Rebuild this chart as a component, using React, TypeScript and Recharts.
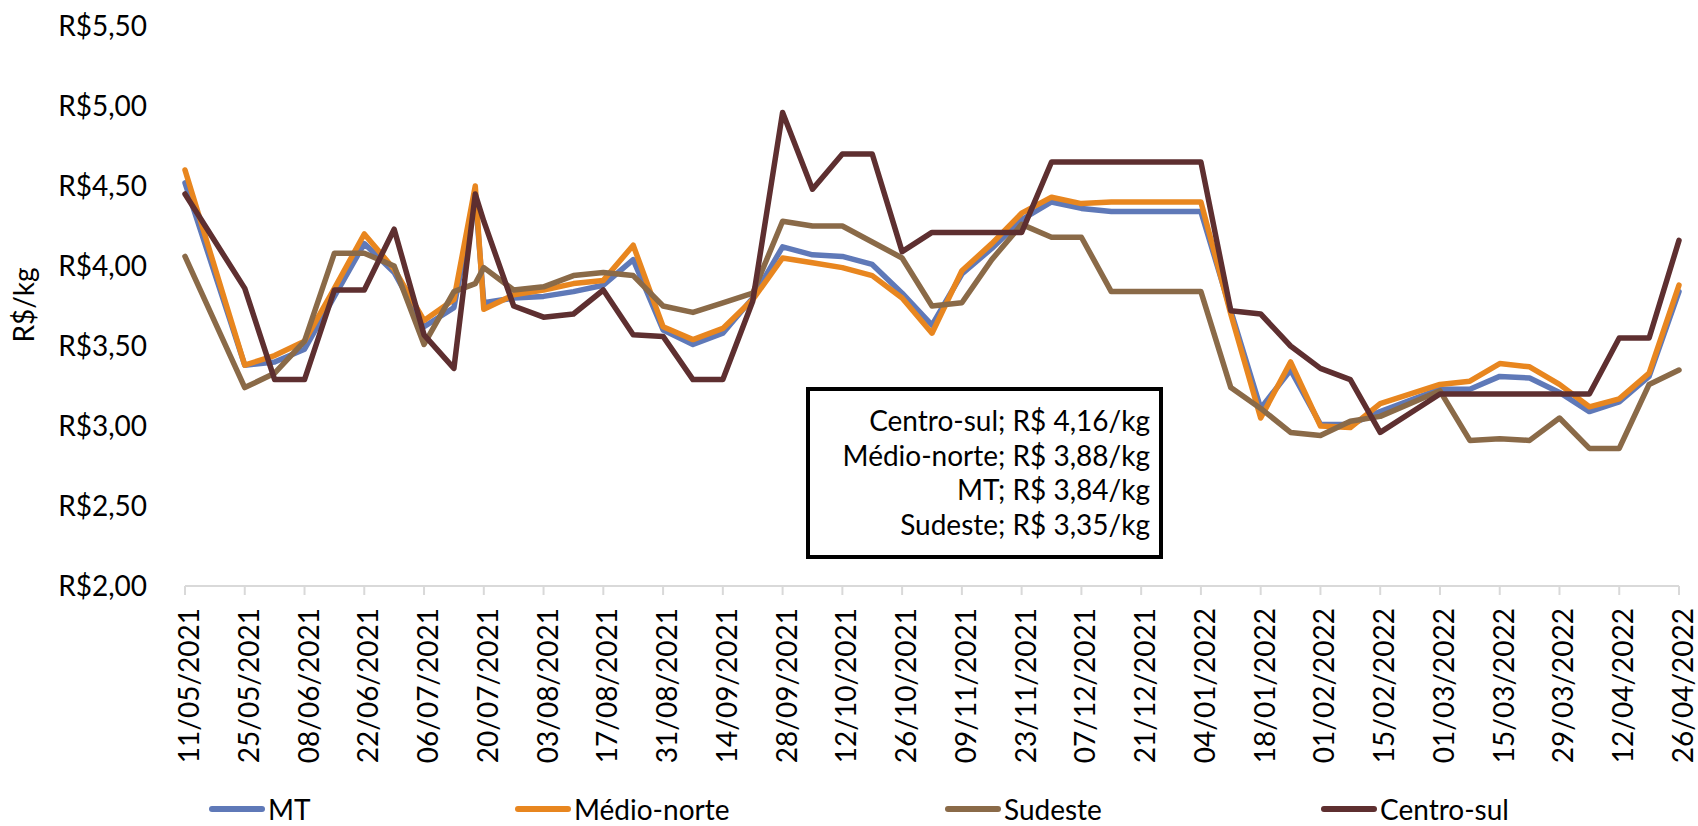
import React from 'react';
import { LineChart, Line, XAxis, YAxis, Legend, Label } from 'recharts';

// Days since 11/05/2021 for each observation
const days = [0, 14, 21, 28, 35, 42, 49, 56, 63, 68, 70, 77, 84, 91, 98, 105, 112, 119, 126, 133, 140, 147, 154, 161, 168, 175, 182, 189, 196, 203, 210, 217, 224, 231, 238, 245, 252, 259, 266, 273, 280, 294, 301, 308, 315, 322, 329, 336, 343, 350];

const mt = [4.52, 3.38, 3.40, 3.48, 3.81, 4.14, 3.96, 3.62, 3.74, 4.44, 3.77, 3.80, 3.81, 3.84, 3.88, 4.04, 3.60, 3.51, 3.58, 3.80, 4.12, 4.07, 4.06, 4.01, 3.83, 3.63, 3.95, 4.11, 4.29, 4.40, 4.36, 4.34, 4.34, 4.34, 4.34, 3.72, 3.11, 3.35, 3.01, 3.01, 3.09, 3.23, 3.23, 3.31, 3.30, 3.21, 3.09, 3.15, 3.31, 3.84];
const medioNorte = [4.60, 3.38, 3.44, 3.53, 3.86, 4.20, 3.98, 3.66, 3.79, 4.50, 3.73, 3.82, 3.85, 3.89, 3.91, 4.13, 3.62, 3.54, 3.61, 3.79, 4.05, 4.02, 3.99, 3.94, 3.80, 3.58, 3.97, 4.14, 4.33, 4.43, 4.39, 4.40, 4.40, 4.40, 4.40, 3.70, 3.05, 3.40, 3.00, 2.99, 3.14, 3.26, 3.28, 3.39, 3.37, 3.26, 3.12, 3.17, 3.33, 3.88];
const sudeste = [4.06, 3.24, 3.33, 3.53, 4.08, 4.08, 4.00, 3.51, 3.84, 3.89, 3.99, 3.85, 3.87, 3.94, 3.96, 3.94, 3.75, 3.71, 3.77, 3.83, 4.28, 4.25, 4.25, 4.15, 4.05, 3.75, 3.77, 4.04, 4.26, 4.18, 4.18, 3.84, 3.84, 3.84, 3.84, 3.24, 3.11, 2.96, 2.94, 3.03, 3.06, 3.22, 2.91, 2.92, 2.91, 3.05, 2.86, 2.86, 3.26, 3.35];
const centroSul = [4.45, 3.86, 3.29, 3.29, 3.85, 3.85, 4.23, 3.57, 3.36, 4.45, 4.28, 3.75, 3.68, 3.70, 3.85, 3.57, 3.56, 3.29, 3.29, 3.78, 4.96, 4.48, 4.70, 4.70, 4.09, 4.21, 4.21, 4.21, 4.21, 4.65, 4.65, 4.65, 4.65, 4.65, 4.65, 3.72, 3.70, 3.50, 3.36, 3.29, 2.96, 3.20, 3.20, 3.20, 3.20, 3.20, 3.20, 3.55, 3.55, 4.16];

const tickDays = [0, 14, 28, 42, 56, 70, 84, 98, 112, 126, 140, 154, 168, 182, 196, 210, 224, 238, 252, 266, 280, 294, 308, 322, 336, 350];
const tickLabels = ['11/05/2021', '25/05/2021', '08/06/2021', '22/06/2021', '06/07/2021', '20/07/2021', '03/08/2021', '17/08/2021', '31/08/2021', '14/09/2021', '28/09/2021', '12/10/2021', '26/10/2021', '09/11/2021', '23/11/2021', '07/12/2021', '21/12/2021', '04/01/2022', '18/01/2022', '01/02/2022', '15/02/2022', '01/03/2022', '15/03/2022', '29/03/2022', '12/04/2022', '26/04/2022'];

const yTicks = [2, 2.5, 3, 3.5, 4, 4.5, 5, 5.5];

const seriesNames = ['MT', 'Médio-norte', 'Sudeste', 'Centro-sul'];
const seriesKeys = ['mt', 'mn', 'se', 'cs'];
const seriesValues = [mt, medioNorte, sudeste, centroSul];
const seriesColors = ['#5F79B8', '#E8861F', '#8A6A48', '#5E2F30'];

// layout
const W = 1698;
const H = 826;
const FONT = 'Lato, "Open Sans", "DejaVu Sans", sans-serif';
const legendLeft = [209, 515, 945, 1321];

const data = days.map((d, i) => ({
  day: d,
  mt: mt[i],
  mn: medioNorte[i],
  se: sudeste[i],
  cs: centroSul[i],
}));

const fmtMoney = (v: number) => v.toFixed(2).replace('.', ',');

const XTick = (props: any) => {
  const { x, y, payload } = props;
  const idx = tickDays.indexOf(payload.value);
  const label = idx >= 0 ? tickLabels[idx] : '';
  const ax = x + 14;
  return (
    <text
      x={ax}
      y={y}
      transform={`rotate(-90, ${ax}, ${y})`}
      textAnchor="end"
      fontFamily={FONT}
      fontSize={28}
      fill="#000"
    >
      {label}
    </text>
  );
};

const renderLegend = (props: any) => {
  const payload = props.payload || [];
  return (
    <div style={{ position: 'relative', width: W, height: 0 }}>
      {payload.map((entry: any) => {
        const i = seriesNames.indexOf(entry.value);
        return (
          <div
            key={entry.value}
            style={{
              position: 'absolute',
              left: legendLeft[i],
              top: 794,
              height: 30,
              display: 'flex',
              alignItems: 'center',
              whiteSpace: 'nowrap',
            }}
          >
            <span style={{ display: 'inline-block', width: 56, height: 6, borderRadius: 3, background: seriesColors[i] }} />
            <span style={{ marginLeft: 3, fontFamily: FONT, fontSize: 28, lineHeight: '30px', color: '#000' }}>{entry.value}</span>
          </div>
        );
      })}
    </div>
  );
};

const lastValues = seriesNames
  .map((n, i) => ({ name: n, value: seriesValues[i][seriesValues[i].length - 1] }))
  .sort((a, b) => b.value - a.value);

export default function App() {
  return (
    <div style={{ position: 'absolute', left: 0, top: 0, width: W, height: H, overflow: 'hidden', background: '#fff' }}>
      <LineChart width={W} height={H} data={data} margin={{ top: 26, right: 19, bottom: 40, left: 0 }}>
        <XAxis
          dataKey="day"
          type="number"
          domain={[0, 350]}
          ticks={tickDays}
          interval={0}
          height={200}
          tickSize={9}
          tickMargin={13}
          tick={<XTick />}
          axisLine={{ stroke: '#d9d9d9', strokeWidth: 2 }}
          tickLine={{ stroke: '#d9d9d9', strokeWidth: 2 }}
        />
        <YAxis
          type="number"
          domain={[2, 5.5]}
          ticks={yTicks}
          interval={0}
          width={185}
          axisLine={false}
          tickLine={false}
          tickSize={0}
          tickMargin={38}
          tickFormatter={(v: number) => `R$${fmtMoney(v)}`}
          tick={{ fontFamily: FONT, fontSize: 28, fill: '#000' }}
        >
          <Label
            content={() => (
              <text x={34} y={305} transform="rotate(-90, 34, 305)" textAnchor="middle" fontFamily={FONT} fontSize={28} fill="#000">
                R$/kg
              </text>
            )}
          />
        </YAxis>
        <Legend
          content={renderLegend}
          wrapperStyle={{ position: 'absolute', left: 0, top: 0, bottom: 'auto', width: W, height: 0 }}
        />
        {seriesKeys.map((k, i) => (
          <Line
            key={k}
            type="linear"
            dataKey={k}
            name={seriesNames[i]}
            stroke={seriesColors[i]}
            strokeWidth={5.5}
            strokeLinejoin="round"
            strokeLinecap="round"
            dot={false}
            activeDot={false}
            isAnimationActive={false}
          />
        ))}
      </LineChart>
      <div
        style={{
          position: 'absolute',
          left: 806,
          top: 387,
          width: 357,
          height: 172,
          boxSizing: 'border-box',
          border: '4px solid #000',
          background: '#fff',
          textAlign: 'right',
          padding: '12px 9px 0 0',
          fontFamily: FONT,
          fontSize: 28,
          lineHeight: '34.7px',
          color: '#000',
        }}
      >
        {lastValues.map((lv) => (
          <div key={lv.name}>{`${lv.name}; R$ ${fmtMoney(lv.value)}/kg`}</div>
        ))}
      </div>
    </div>
  );
}
